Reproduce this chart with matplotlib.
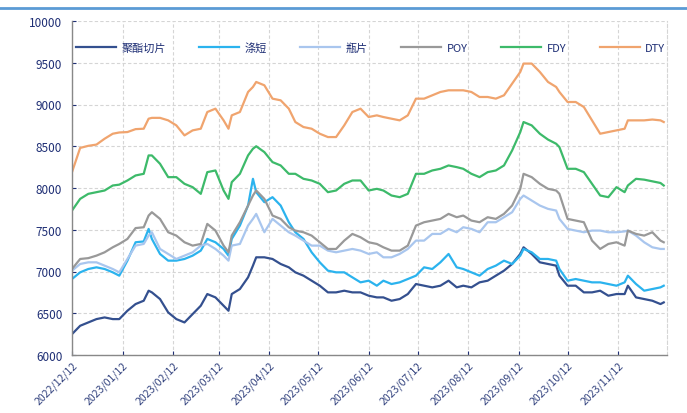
import matplotlib
matplotlib.use("Agg")
import matplotlib.pyplot as plt
from matplotlib.lines import Line2D
import pandas as pd

plt.rcParams['font.family'] = ['Noto Sans CJK SC', 'DejaVu Sans']

base_date = "2022-12-12"
day_offsets = [0, 5, 10, 15, 20, 25, 29, 34, 39, 44, 47, 49, 54, 59,
               64, 69, 74, 79, 83, 88, 93, 96, 98, 103, 108, 111, 113, 118,
               123, 128, 133, 137, 142, 147, 152, 157, 162, 167, 172, 177, 182,
               187, 191, 196, 201, 206, 211, 216, 221, 226, 231, 236, 240,
               245, 250, 255, 260, 265, 270, 275, 277, 282, 287, 292, 297, 299, 304,
               309, 314, 319, 324, 329, 334, 339, 341, 346, 351, 356, 361, 363]

chips = [6250, 6350, 6390, 6430, 6450, 6430, 6430, 6530, 6610, 6650, 6770, 6750, 6670, 6510,
         6430, 6390, 6490, 6590, 6730, 6690, 6590, 6530, 6730, 6790, 6930, 7070, 7170, 7170,
         7150, 7090, 7050, 6990, 6950, 6890, 6830, 6750, 6750, 6770, 6750, 6750, 6710,
         6690, 6690, 6650, 6670, 6730, 6850, 6830, 6810, 6830, 6890, 6810, 6830,
         6810, 6870, 6890, 6950, 7010, 7090, 7210, 7290, 7210, 7110, 7090, 7070, 6950, 6830,
         6830, 6750, 6750, 6770, 6710, 6730, 6730, 6830, 6690, 6670, 6650, 6610, 6630]

staple = [6910, 6990, 7030, 7050, 7030, 6990, 6950, 7130, 7350, 7360, 7510, 7390, 7210, 7130,
          7130, 7150, 7190, 7250, 7390, 7350, 7270, 7190, 7390, 7550, 7790, 8110, 7950, 7830,
          7890, 7790, 7590, 7470, 7390, 7230, 7110, 7010, 6990, 6990, 6930, 6870, 6890,
          6830, 6890, 6850, 6870, 6910, 6950, 7050, 7030, 7110, 7210, 7050, 7030,
          6990, 6950, 7030, 7070, 7130, 7090, 7190, 7270, 7230, 7150, 7150, 7130, 7030, 6890,
          6910, 6890, 6870, 6870, 6850, 6830, 6870, 6950, 6850, 6770, 6790, 6810, 6830]

bottle = [7010, 7090, 7110, 7110, 7070, 7030, 6990, 7150, 7310, 7330, 7430, 7470, 7270, 7210,
          7150, 7190, 7230, 7310, 7330, 7270, 7190, 7130, 7310, 7330, 7550, 7630, 7690, 7470,
          7630, 7550, 7470, 7430, 7370, 7310, 7310, 7250, 7230, 7250, 7270, 7250, 7210,
          7230, 7170, 7170, 7210, 7270, 7370, 7370, 7450, 7450, 7510, 7470, 7530,
          7510, 7470, 7590, 7590, 7650, 7710, 7870, 7910, 7850, 7790, 7750, 7730, 7630, 7510,
          7490, 7470, 7490, 7490, 7470, 7470, 7480, 7490, 7430, 7350, 7290, 7270, 7270]

poy = [7030, 7150, 7160, 7190, 7230, 7290, 7330, 7390, 7520, 7530, 7670, 7710, 7630, 7470,
       7430, 7350, 7310, 7330, 7570, 7490, 7310, 7230, 7430, 7590, 7790, 7910, 7970, 7870,
       7670, 7630, 7530, 7490, 7470, 7430, 7350, 7270, 7270, 7370, 7450, 7410, 7350,
       7330, 7290, 7250, 7250, 7310, 7550, 7590, 7610, 7630, 7690, 7650, 7670,
       7610, 7590, 7650, 7630, 7690, 7790, 7990, 8170, 8130, 8050, 7990, 7970, 7930, 7630,
       7610, 7590, 7370, 7270, 7330, 7350, 7310, 7490, 7450, 7430, 7470, 7370, 7350]

fdy = [7730, 7870, 7930, 7950, 7970, 8030, 8040, 8090, 8150, 8170, 8390, 8390, 8290, 8130,
       8130, 8050, 8010, 7930, 8190, 8210, 7970, 7870, 8070, 8170, 8390, 8470, 8500, 8430,
       8310, 8270, 8170, 8170, 8110, 8090, 8050, 7950, 7970, 8050, 8090, 8090, 7970,
       7990, 7970, 7910, 7890, 7930, 8170, 8170, 8210, 8230, 8270, 8250, 8230,
       8170, 8130, 8190, 8210, 8270, 8450, 8670, 8790, 8750, 8650, 8580, 8530, 8490, 8230,
       8230, 8190, 8050, 7910, 7890, 8010, 7950, 8030, 8110, 8100, 8080, 8060, 8030]

dty = [8190, 8480, 8505, 8520, 8590, 8650, 8665, 8670, 8705, 8710, 8830, 8840, 8840, 8810,
       8750, 8630, 8690, 8710, 8910, 8950, 8810, 8710, 8870, 8910, 9150, 9210, 9270, 9230,
       9070, 9050, 8950, 8790, 8730, 8710, 8650, 8610, 8610, 8750, 8910, 8950, 8850,
       8870, 8850, 8830, 8810, 8870, 9070, 9070, 9110, 9150, 9170, 9170, 9170,
       9150, 9090, 9090, 9070, 9110, 9250, 9390, 9490, 9490, 9390, 9270, 9210, 9150, 9030,
       9030, 8970, 8810, 8650, 8670, 8690, 8710, 8810, 8810, 8810, 8820, 8810, 8790]

series_names = ["聚酯切片", "涤短", "瓶片", "POY", "FDY", "DTY"]
series_values = [chips, staple, bottle, poy, fdy, dty]
series_colors = ["#34508f", "#2bb3ee", "#a9c6ee", "#999999", "#3dba6a", "#f0a46e"]

x_tick_labels = ["2022/12/12", "2023/01/12", "2023/02/12", "2023/03/12", "2023/04/12",
                 "2023/05/12", "2023/06/12", "2023/07/12", "2023/08/12", "2023/09/12",
                 "2023/10/12", "2023/11/12"]
y_ticks = [6000, 6500, 7000, 7500, 8000, 8500, 9000, 9500, 10000]

dates = pd.to_datetime(base_date) + pd.to_timedelta(day_offsets, unit="D")

W, H = 687, 414
fig = plt.figure(figsize=(W / 100, H / 100), dpi=100)
ax = fig.add_axes([72 / W, 1 - 356 / H, (667 - 72) / W, (356 - 22) / H])

for name, vals, col in zip(series_names, series_values, series_colors):
    ax.plot(dates, vals, color=col, lw=1.6, label=name)

ax.set_ylim(6000, 10000)
ax.set_yticks(y_ticks)
ax.set_yticklabels([str(v) for v in y_ticks])
ax.set_xlim(pd.Timestamp("2022-12-12"), pd.Timestamp("2023-12-12"))
tick_dates = pd.to_datetime([s.replace("/", "-") for s in x_tick_labels])
ax.set_xticks(tick_dates)
ax.set_xticklabels(x_tick_labels, rotation=45, ha="right", rotation_mode="anchor")

navy = "#1f2f75"
ax.tick_params(axis="both", colors=navy, direction="in", length=3)
ax.tick_params(axis="y", labelsize=8.5, pad=7)
ax.tick_params(axis="x", labelsize=7.6, pad=3, labelcolor="#33437f")
for t in ax.get_xticklines() + ax.get_yticklines():
    t.set_color("#888888")

ax.grid(True, color="#d5d5d5", linestyle=(0, (3, 2)), lw=0.8)
ax.set_axisbelow(True)
ax.spines["top"].set_visible(False)
ax.spines["right"].set_color("#d5d5d5")
ax.spines["right"].set_linestyle((0, (3, 2)))
ax.spines["right"].set_linewidth(0.8)
for s in ("left", "bottom"):
    ax.spines[s].set_color("#888888")
    ax.spines[s].set_linewidth(1.0)

leg = ax.legend(loc="lower left", bbox_to_anchor=(0.007, 0.905, 0.99, 0.07), mode="expand",
                ncol=6, frameon=False, fontsize=8, handlelength=3.6, handletextpad=0.5,
                borderaxespad=0.0, borderpad=0.0)
for t in leg.get_texts():
    t.set_color(navy)

fig.add_artist(Line2D([0, 1], [1 - 8.5 / H, 1 - 8.5 / H], color="#5b9bd5", lw=2.0,
                      transform=fig.transFigure))

fig.savefig("out.png", dpi=100, facecolor="white")
